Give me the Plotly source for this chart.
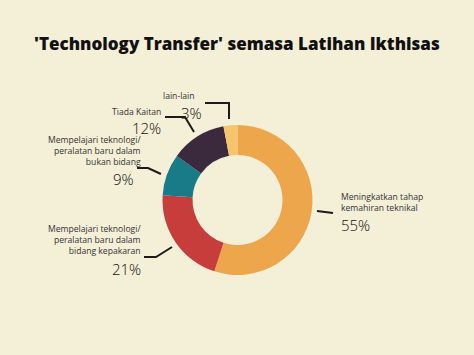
import plotly.graph_objects as go

W, H = 474, 355

categories = [
    "Meningkatkan tahap kemahiran teknikal",
    "Mempelajari teknologi/ peralatan baru dalam bidang kepakaran",
    "Mempelajari teknologi/ peralatan baru dalam bukan bidang",
    "Tiada Kaitan",
    "lain-lain",
]
values = [55, 21, 9, 12, 3]
colors = ["#EEA64D", "#C63D3C", "#1A7B88", "#3B2A3D", "#F5C46C"]
label_lines = [
    ["Meningkatkan tahap", "kemahiran teknikal"],
    ["Mempelajari teknologi/", "peralatan baru dalam", "bidang kepakaran"],
    ["Mempelajari teknologi/", "peralatan baru dalam", "bukan bidang"],
    ["Tiada Kaitan"],
    ["lain-lain"],
]
pct_labels = ["55%", "21%", "9%", "12%", "3%"]

BG = "#F4EFD7"
FONT = "Open Sans"


def px(x):
    return x / W


def py(y):
    return 1 - y / H


fig = go.Figure(go.Pie(
    labels=categories,
    values=values,
    marker=dict(colors=colors, line=dict(width=0)),
    hole=0.6,
    sort=False,
    direction="clockwise",
    rotation=0,
    textinfo="none",
    hoverinfo="label+percent",
    domain=dict(x=[px(162), px(313)], y=[py(275), py(125)]),
    showlegend=False,
))

# leader lines (pixel paths)
paths = [
    [(317, 211), (333, 213)],
    [(144, 257), (156, 257), (172, 247)],
    [(137, 168), (148, 168), (161, 174)],
    [(165, 117), (185, 117), (194, 132)],
    [(205, 103), (229, 103), (229, 119)],
]
shapes = []
for pts in paths:
    d = "M " + " L ".join(f"{px(x)},{py(y)}" for x, y in pts)
    shapes.append(dict(type="path", path=d, xref="paper", yref="paper",
                       line=dict(color="#1b1b1b", width=2)))

annotations = [
    dict(text="'Technology Transfer' semasa Latihan Ikthisas",
         x=0.5, y=py(43), xref="paper", yref="paper", showarrow=False,
         font=dict(family=FONT, size=17, color="#111111", weight=800),
         xanchor="center", yanchor="middle"),
]

# label positions: (x, y_of_first_line, anchor, pct_y)
label_pos = [
    (340, 197, "left", 225),
    (142, 230, "right", 269),
    (142, 141, "right", 179),
    (162, 112, "right", 128),
    (196, 96, "right", 113),
]
pct_x_override = {2: 135, 4: 203}

for i, (x, y0, anchor, yp) in enumerate(label_pos):
    n = len(label_lines[i])
    yc = y0 + (n - 1) * 10.0 / 2
    annotations.append(dict(
        text="<br>".join(label_lines[i]), x=px(x), y=py(yc),
        xref="paper", yref="paper", showarrow=False, xanchor=anchor,
        yanchor="middle", align=anchor, borderpad=0,
        font=dict(family=FONT, size=8.6, color="#333333")))
    annotations.append(dict(
        text=pct_labels[i], x=px(pct_x_override.get(i, x)), y=py(yp),
        xref="paper", yref="paper", showarrow=False, xanchor=anchor,
        yanchor="middle", borderpad=0,
        font=dict(family=FONT, size=15, color="#111111", weight=300)))

fig.update_layout(
    width=W, height=H,
    margin=dict(l=0, r=0, t=0, b=0),
    paper_bgcolor=BG, plot_bgcolor=BG,
    shapes=shapes, annotations=annotations,
)

fig.write_html("out.html", config={"displayModeBar": False},
               post_script="document.body.style.margin='0';document.body.style.overflow='hidden';")
